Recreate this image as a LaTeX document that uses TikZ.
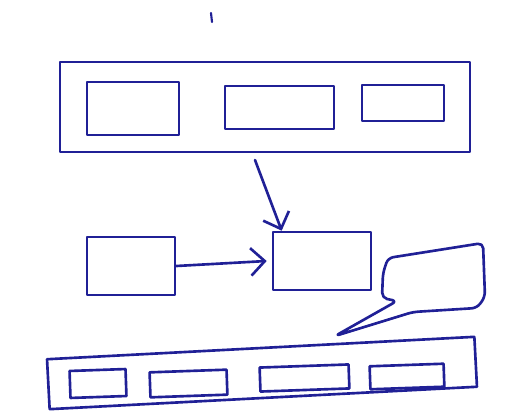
\documentclass[tikz,border=0pt]{standalone}
\usetikzlibrary{positioning,fit,calc,arrows.meta}
\definecolor{penblue}{RGB}{32,32,150}
\tikzset{
  pen/.style={draw=penblue, line width=1.5pt, line join=round, line cap=round},
  panel/.style={pen, inner sep=0pt, rectangle},
  slot/.style={pen, inner sep=0pt, rectangle, minimum width=#1},
  link/.style={pen, -{Straight Barb[length=2.8mm, width=5.5mm, line width=1.5pt]}},
}
\begin{document}
\begin{tikzpicture}[x=0.02cm, y=-0.02cm]
  \useasboundingbox (0,0) rectangle (512,413);
  % top bar with three slots
  \node[panel, fit={(60,62) (470,152)}] (topbar) {};
  \node[panel, fit={(87,82) (179,135)}] (top1) {};
  \node[panel, fit={(225,86) (334,129)}] (top2) {};
  \node[panel, fit={(362,85) (444,121)}] (top3) {};
  % middle boxes
  \node[panel, fit={(87,237) (175,295)}] (left) {};
  \node[panel, fit={(273,232) (371,290)}] (mid) {};
  \coordinate (src) at (255,160);
  \draw[link] (left.east) -- ([xshift=-0.1cm]mid.west);
  \draw[link] (src) -- ([xshift=0.2cm]mid.north west);
  % speech bubble
  \coordinate (tip) at (335,336);
  \draw[pen, rounded corners=3pt] (397,301) -- (382,298) -- (383,273) -- (388,258)
    -- (483,243) -- (485,297) -- (477,308) -- (413,312) -- (tip) -- cycle;
  % bottom bar with four slots
  \node[pen, rectangle, minimum width=8.56cm, minimum height=1.0cm, rotate=3] (botbar) at (262,373) {};
  \node[slot=1.12cm, minimum height=0.54cm, rotate=2] (bot1) at (98,383.5) {};
  \node[slot=1.54cm, minimum height=0.5cm, rotate=2] (bot2) at (188.5,383.5) {};
  \node[slot=1.78cm, minimum height=0.48cm, rotate=2] (bot3) at (304.5,378) {};
  \node[slot=1.48cm, minimum height=0.46cm, rotate=2] (bot4) at (407,376.5) {};
  % stray mark
  \draw[pen, line width=1.2pt] (211,13) -- (212,22);
\end{tikzpicture}
\end{document}
